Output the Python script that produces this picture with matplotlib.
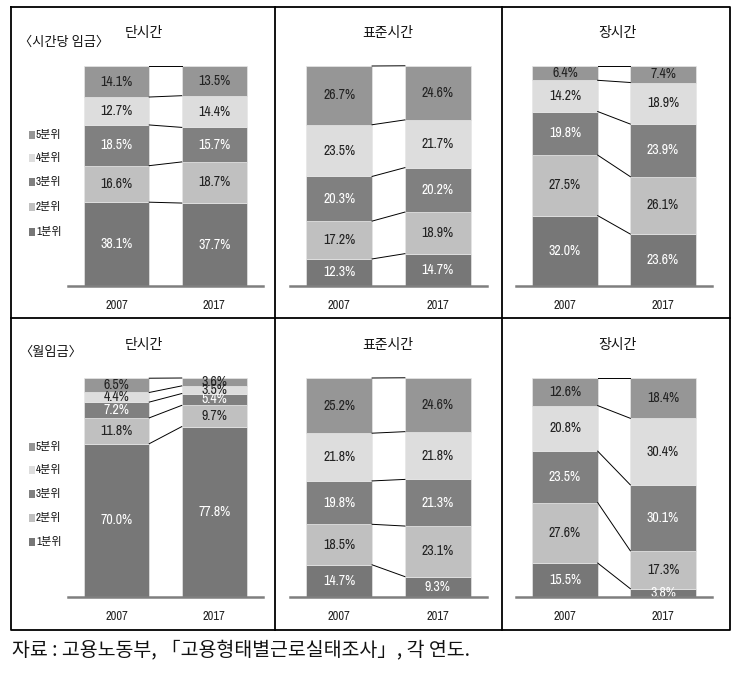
import matplotlib
matplotlib.use("Agg")
import matplotlib.pyplot as plt
from matplotlib.patches import Rectangle
from matplotlib import font_manager

# ---------------- data ----------------
years = ["2007", "2017"]
quintiles = ["1분위", "2분위", "3분위", "4분위", "5분위"]
panel_titles = ["단시간", "표준시간", "장시간"]
row_labels = ["〈시간당 임금〉", "〈월임금〉"]

# hourly wage shares (1분위..5분위), [2007, 2017]
hourly_short = [[38.1, 16.6, 18.5, 12.7, 14.1], [37.7, 18.7, 15.7, 14.4, 13.5]]
hourly_standard = [[12.3, 17.2, 20.3, 23.5, 26.7], [14.7, 18.9, 20.2, 21.7, 24.6]]
hourly_long = [[32.0, 27.5, 19.8, 14.2, 6.4], [23.6, 26.1, 23.9, 18.9, 7.4]]
# monthly wage shares
monthly_short = [[70.0, 11.8, 7.2, 4.4, 6.5], [77.8, 9.7, 5.4, 3.5, 3.6]]
monthly_standard = [[14.7, 18.5, 19.8, 21.8, 25.2], [9.3, 23.1, 21.3, 21.8, 24.6]]
monthly_long = [[15.5, 27.6, 23.5, 20.8, 12.6], [3.8, 17.3, 30.1, 30.4, 18.4]]

source_note = "자료 : 고용노동부, 「고용형태별근로실태조사」, 각 연도."

# ---------------- style ----------------
colors = ["#777777", "#c0c0c0", "#808080", "#dddddd", "#969696"]
text_colors = ["white", "#222222", "white", "#222222", "#222222"]

available = {f.name for f in font_manager.fontManager.ttflist}
narrow = next((n for n in ["Archivo Narrow", "Liberation Sans Narrow", "Barlow Condensed"]
               if n in available), "Liberation Sans")
num_font = [narrow, "DejaVu Sans"]
kor_font = ["Noto Sans CJK KR", "DejaVu Sans"]
mix_font = [narrow, "Noto Sans CJK KR", "DejaVu Sans"]

W, H = 741, 677
fig = plt.figure(figsize=(W / 100, H / 100), dpi=100)
fig.patch.set_facecolor("white")

bg = fig.add_axes([0, 0, 1, 1], zorder=0)
bg.set_xlim(0, W)
bg.set_ylim(H, 0)
bg.axis("off")


def px_axes(x0, x1, ytop, ybase):
    return fig.add_axes([x0 / W, (H - ybase) / H, (x1 - x0) / W, (ybase - ytop) / H], zorder=2)


panels = [[hourly_short, hourly_standard, hourly_long],
          [monthly_short, monthly_standard, monthly_long]]
col_x = [(68, 263), (290, 487), (516, 712)]
row_y = [(66, 286), (378, 597)]
title_x = [144, 388, 617]
title_y = [33, 345]

bar_w = 0.667
for r in range(2):
    for c in range(3):
        data = panels[r][c]
        ax = px_axes(col_x[c][0], col_x[c][1], row_y[r][0], row_y[r][1])
        ax.set_xlim(-0.5, 1.5)
        ax.set_ylim(0, 100)
        ax.patch.set_alpha(0)
        xs = [0, 1]
        bottoms = [0.0, 0.0]
        cum = [[0.0], [0.0]]
        for q in range(5):
            vals = [data[0][q], data[1][q]]
            ax.bar(xs, vals, bottom=bottoms, width=bar_w, color=colors[q],
                   edgecolor="#e6e6e6", linewidth=0.5, zorder=2)
            for i in range(2):
                ax.text(xs[i], bottoms[i] + vals[i] / 2, f"{vals[i]:.1f}%",
                        ha="center", va="center", fontsize=10, family=num_font,
                        color=text_colors[q], zorder=4)
            bottoms = [bottoms[0] + vals[0], bottoms[1] + vals[1]]
            cum[0].append(bottoms[0])
            cum[1].append(bottoms[1])
        for k in range(1, 6):
            ax.plot([xs[0] + bar_w / 2, xs[1] - bar_w / 2], [cum[0][k], cum[1][k]],
                    color="black", linewidth=0.7, zorder=3, clip_on=False)
        for s in ["top", "left", "right"]:
            ax.spines[s].set_visible(False)
        ax.spines["bottom"].set_color("#7f7f7f")
        ax.spines["bottom"].set_linewidth(1.8)
        ax.spines["bottom"].set_zorder(5)
        ax.set_yticks([])
        ax.set_xticks(xs)
        ax.set_xticklabels(years, fontsize=9, family=num_font, color="#222222")
        ax.tick_params(axis="x", length=0, pad=10)
        bg.text(title_x[c], title_y[r], panel_titles[c], ha="center", va="center",
                fontsize=10, family=kor_font, color="#111111")

# row labels
bg.text(19, 42, row_labels[0], ha="left", va="center", fontsize=9.5, family=kor_font, color="#111111")
bg.text(19, 352, row_labels[1], ha="left", va="center", fontsize=9.5, family=kor_font, color="#111111")

# legends (5분위 on top)
legend_y = [[135, 158, 182, 207, 232], [447, 470, 494, 518, 542]]
for r in range(2):
    for j, q in enumerate(range(4, -1, -1)):
        yc = legend_y[r][j]
        bg.add_patch(Rectangle((29, yc - 4), 6, 8, facecolor=colors[q], edgecolor="none"))
        bg.text(36, yc, quintiles[q], ha="left", va="center", fontsize=8,
                family=mix_font, color="#111111")

# table borders
lw = 1.3
bg.plot([11, 730, 730, 11, 11], [7, 7, 630, 630, 7], color="black", linewidth=lw)
bg.plot([275, 275], [7, 630], color="black", linewidth=lw)
bg.plot([502, 502], [7, 630], color="black", linewidth=lw)
bg.plot([11, 730], [318, 318], color="black", linewidth=lw)

# source
bg.text(12, 651, source_note, ha="left", va="center", fontsize=14, family=kor_font, color="#111111")

fig.savefig("out.png", dpi=100, facecolor="white")
